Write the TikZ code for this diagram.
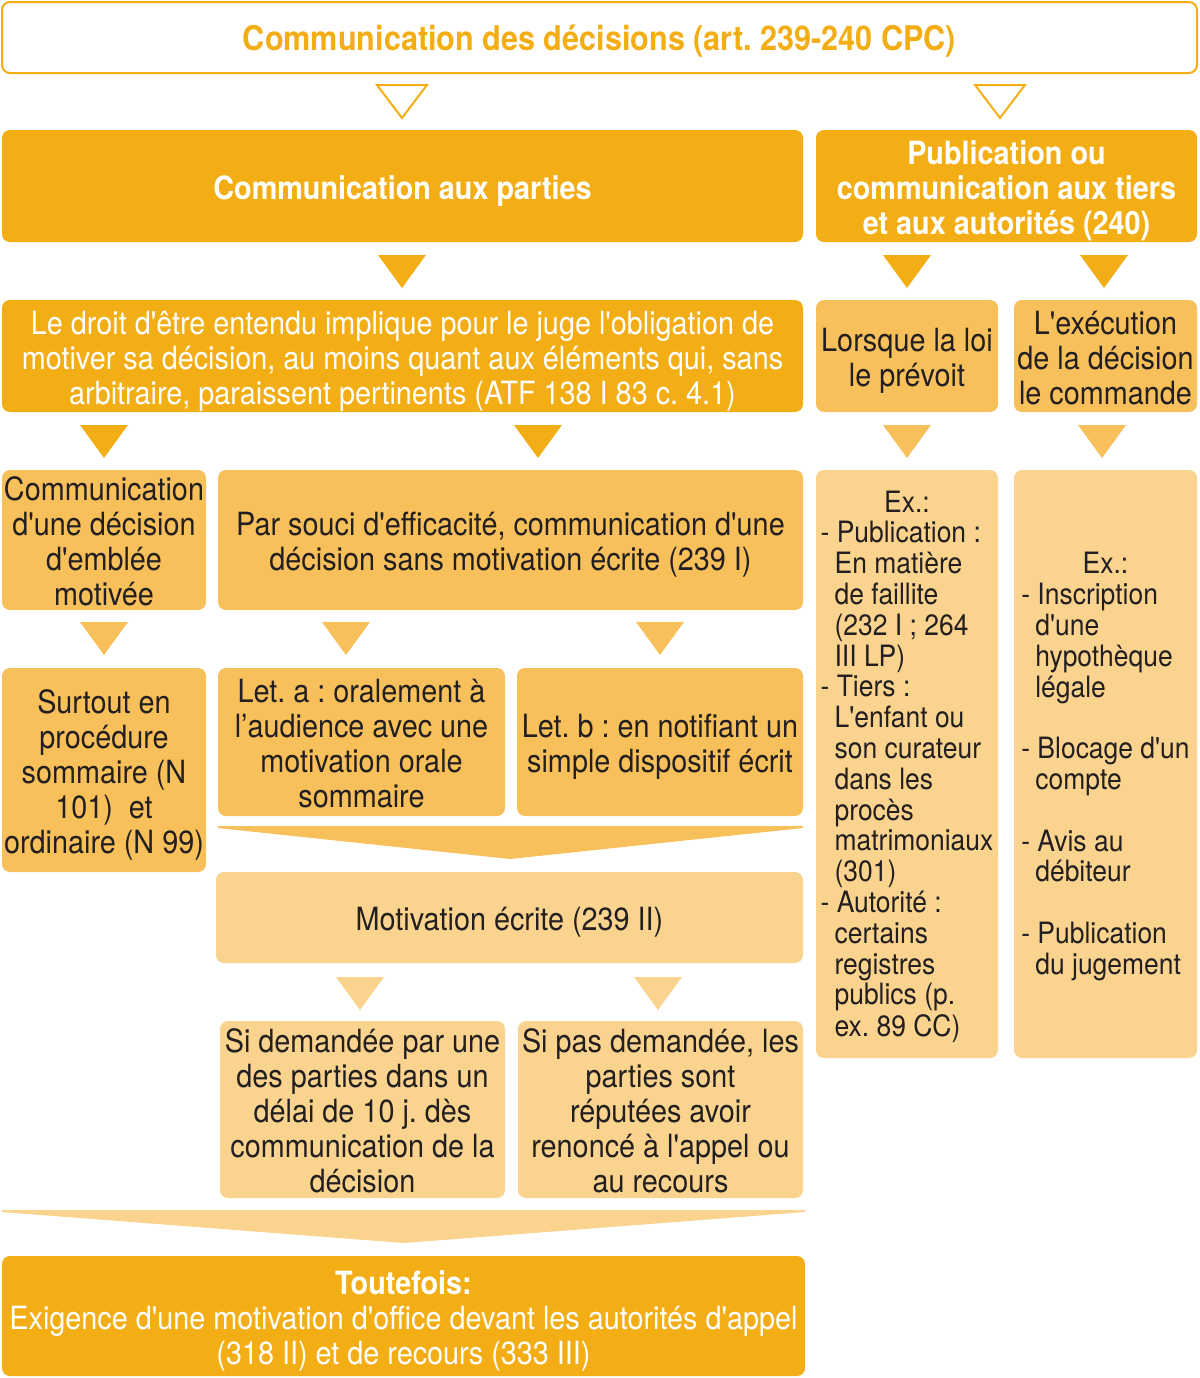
\documentclass[tikz,border=0pt]{standalone}
\usepackage{fontspec}
\setmainfont{TeX Gyre Heros}[FakeStretch=0.90, Ligatures=TeXOff]
\definecolor{cdark}{RGB}{243,174,22}
\definecolor{cmed}{RGB}{248,192,90}
\definecolor{clight}{RGB}{250,212,142}
\definecolor{ctext}{RGB}{35,31,32}
\newcommand\downtri[3]{\fill[#3] (#1-24,#2) -- (#1+24,#2) -- (#1,#2+33) -- cycle;}
\frenchspacing
\begin{document}
\frenchspacing
\begin{tikzpicture}[x=0.5pt,y=-0.5pt,
  box/.style={rounded corners=4pt, inner sep=0pt, align=center, text=ctext,
    font=\fontsize{16}{17.5}\selectfont,
    execute at begin node={\rule{0pt}{17pt}},
    execute at end node={\rule[-4pt]{0pt}{4pt}}},
  shape box/.style={rounded corners=4pt, inner sep=0pt},
  lightbox/.style={box, fill=clight},
  darkbox/.style={box, fill=cdark, text=white},
  txt/.style={inner sep=0pt, align=center, text=ctext, font=\fontsize{16}{17.5}\selectfont,
    execute at end node={\rule[-4pt]{0pt}{4pt}}},
  wtxt/.style={txt, text=white},
  extext/.style={inner sep=0pt, text=ctext, font=\fontsize{14.7}{15.4}\selectfont}]
\useasboundingbox (0,0) rectangle (1200,1378);

% title
\node[box, draw=cdark, line width=1pt, fill=white, text=cdark,
  minimum width=597.5pt, minimum height=35.5pt, font=\fontsize{17}{18}\selectfont\bfseries]
  (title) at (599.5,37.5) {Communication des décisions (art. 239-240 CPC)};

% hollow triangles
\draw[cdark, line width=1pt, fill=white, line join=miter] (377,85) -- (427,85) -- (402,118) -- cycle;
\draw[cdark, line width=1pt, fill=white, line join=miter] (975,85) -- (1025,85) -- (1000,118) -- cycle;

% row 1
\node[darkbox, minimum width=400.5pt, minimum height=56pt, font=\fontsize{16}{17.5}\selectfont\bfseries]
  (parties) at (402.5,186) {Communication aux parties};
\node[shape box, fill=cdark, minimum width=190.5pt, minimum height=56pt] (publi) at (1006.5,186) {};
\node[wtxt, font=\fontsize{16}{17.5}\selectfont\bfseries] (publi-t) at ([yshift=-2.75pt]publi.center)
  {Publication ou\\communication aux tiers\\et aux autorités (240)};

\downtri{402}{255}{cdark}
\downtri{907}{255}{cdark}
\downtri{1104}{255}{cdark}

% row 2
\node[shape box, fill=cdark, minimum width=400.5pt, minimum height=56pt] (droit) at (402.5,356) {};
\node[wtxt] (droit-t) at ([yshift=-2.75pt]droit.center)
  {Le droit d'être entendu implique pour le juge l'obligation de\\motiver sa décision, au moins quant aux éléments qui, sans\\arbitraire, paraissent pertinents (ATF 138 I 83 c. 4.1)};
\node[shape box, fill=cmed, minimum width=91pt, minimum height=56pt] (lorsque) at (907,356) {};
\node[txt] (lorsque-t) at ([yshift=-2.75pt]lorsque.center) {Lorsque la loi\\le prévoit};
\node[shape box, fill=cmed, minimum width=91.5pt, minimum height=56pt] (exec) at (1105.5,356) {};
\node[txt] (exec-t) at ([yshift=-2.75pt]exec.center) {L'exécution\\de la décision\\le commande};

\downtri{104}{425}{cdark}
\downtri{538}{425}{cdark}
\downtri{907}{425}{cmed}
\downtri{1102}{425}{cmed}

% row 3
\node[shape box, fill=cmed, minimum width=102pt, minimum height=70pt] (emblee) at (104,540) {};
\node[txt] (emblee-t) at ([yshift=-2.75pt]emblee.center) {Communication\\d'une décision\\d'emblée\\motivée};
\node[shape box, fill=cmed, minimum width=292.5pt, minimum height=70pt] (souci) at (510.5,540) {};
\node[txt] (souci-t) at ([yshift=-2.75pt]souci.center)
  {Par souci d'efficacité, communication d'une\\décision sans motivation écrite (239 I)};

\node[shape box, fill=clight, minimum width=91pt, minimum height=294pt] (ex1) at (907,764) {};
\node[extext] (ex1t) at ([yshift=-2pt]ex1.center) {\begin{tabular}{@{}l@{}}
  \multicolumn{1}{@{}c@{}}{Ex.:}\\
  - Publication :\\
  \hspace*{7pt}En matière\\
  \hspace*{7pt}de faillite\\
  \hspace*{7pt}(232 I ; 264\\
  \hspace*{7pt}III LP)\\
  - Tiers :\\
  \hspace*{7pt}L'enfant ou\\
  \hspace*{7pt}son curateur\\
  \hspace*{7pt}dans les\\
  \hspace*{7pt}procès\\
  \hspace*{7pt}matrimoniaux\\
  \hspace*{7pt}(301)\\
  - Autorité :\\
  \hspace*{7pt}certains\\
  \hspace*{7pt}registres\\
  \hspace*{7pt}publics (p.\\
  \hspace*{7pt}ex. 89 CC)
  \end{tabular}};
\node[shape box, fill=clight, minimum width=91.5pt, minimum height=294pt] (ex2) at (1105.5,764) {};
\node[extext] (ex2t) at ([yshift=-2pt]ex2.center) {\begin{tabular}{@{}l@{}}
  \multicolumn{1}{@{}c@{}}{Ex.:}\\
  - Inscription\\
  \hspace*{7pt}d'une\\
  \hspace*{7pt}hypothèque\\
  \hspace*{7pt}légale\\
  \\
  - Blocage d'un\\
  \hspace*{7pt}compte\\
  \\
  - Avis au\\
  \hspace*{7pt}débiteur\\
  \\
  - Publication\\
  \hspace*{7pt}du jugement
  \end{tabular}};

\downtri{104}{622}{cmed}
\downtri{346}{622}{cmed}
\downtri{660}{622}{cmed}

% row 4
\node[shape box, fill=cmed, minimum width=102pt, minimum height=102pt] (surtout) at (104,770) {};
\node[txt] (surtout-t) at ([yshift=-2.75pt]surtout.center)
  {Surtout en\\procédure\\sommaire (N\\101)\ \ et\\ordinaire (N 99)};
\node[shape box, fill=cmed, minimum width=143.5pt, minimum height=74pt] (leta) at (361.5,742) {};
\node[txt] (leta-t) at ([yshift=-2.75pt]leta.center)
  {Let. a : oralement à\\l’audience avec une\\motivation orale\\sommaire};
\node[shape box, fill=cmed, minimum width=143pt, minimum height=74pt] (letb) at (660,742) {};
\node[txt] (letb-t) at ([yshift=-2.75pt]letb.center)
  {Let. b : en notifiant un\\simple dispositif écrit};

\fill[cmed] (218,826) -- (803,826) -- (803,828) -- (510,859) -- (218,828) -- cycle;

\node[lightbox, minimum width=293.5pt, minimum height=45.5pt]
  (motiv) at (509.5,917.5) {Motivation écrite (239 II)};

\downtri{360}{977}{clight}
\downtri{658}{977}{clight}

\node[shape box, fill=clight, minimum width=142.5pt, minimum height=88.5pt] (sidem) at (362.5,1109.5) {};
\node[txt] (sidem-t) at ([yshift=-2.75pt]sidem.center)
  {Si demandée par une\\des parties dans un\\délai de 10 j. dès\\communication de la\\décision};
\node[shape box, fill=clight, minimum width=142.5pt, minimum height=88.5pt] (sipas) at (660.5,1109.5) {};
\node[txt] (sipas-t) at ([yshift=-2.75pt]sipas.center)
  {Si pas demandée, les\\parties sont\\réputées avoir\\renoncé à l'appel ou\\au recours};

\fill[clight] (2,1210) -- (805,1210) -- (805,1212) -- (404,1243) -- (2,1212) -- cycle;

\node[shape box, fill=cdark, minimum width=401.5pt, minimum height=60pt] (toutefois) at (403.5,1316) {};
\node[wtxt] (toutefois-t) at ([yshift=-2.75pt]toutefois.center)
  {\textbf{Toutefois:}\\Exigence d'une motivation d'office devant les autorités d'appel\\(318 II) et de recours (333 III)};
\end{tikzpicture}
\end{document}
